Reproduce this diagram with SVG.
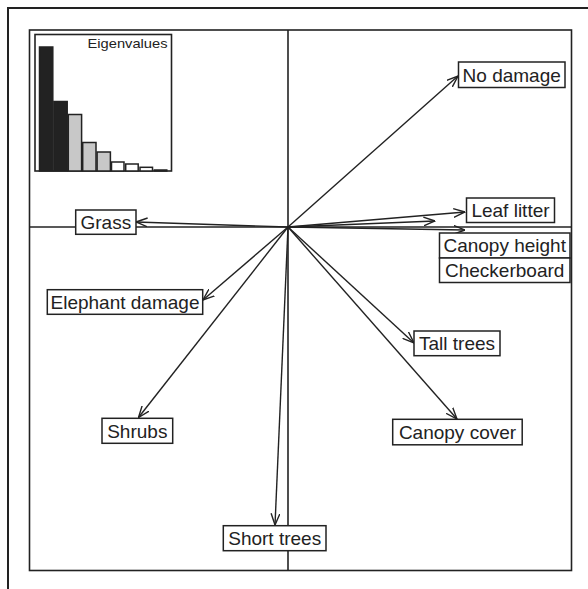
<svg xmlns="http://www.w3.org/2000/svg" width="588" height="589" viewBox="0 0 588 589">
<style>
.frame{fill:none;stroke:#222;stroke-width:1.6}
.axis{stroke:#222;stroke-width:1.6}
.arr{stroke:#222;stroke-width:1.4;fill:none;marker-end:url(#ah)}
.box{fill:#fff;stroke:#222;stroke-width:1.5}
.lbl{font-family:"Liberation Sans",Arial,sans-serif;font-size:19px;fill:#222;text-anchor:middle}
.bar{stroke:#222;stroke-width:1.5}
</style>
<defs>
<marker id="ah" markerUnits="userSpaceOnUse" viewBox="0 0 12 10" refX="11.5" refY="5" markerWidth="12" markerHeight="10" orient="auto">
<path d="M0,0.6 L11.5,5 L0,9.4" fill="none" stroke="#222" stroke-width="1.4"/>
</marker>
</defs>
<rect width="588" height="589" fill="#fff"/>
<path d="M8,589 L8,8 L588,8" fill="none" stroke="#222" stroke-width="2"/>
<rect class="frame" x="29.5" y="30" width="542" height="540.5"/>
<g id="axes">
<line class="axis" x1="288" y1="30" x2="288" y2="570.5"/>
<line class="axis" x1="29.5" y1="227" x2="571.5" y2="227"/>
</g>
<g id="inset">
<rect class="frame" x="35" y="34.5" width="136.5" height="136.5"/>
<rect class="bar" x="39.5" y="47" width="13.3" height="124" fill="#222"/>
<rect class="bar" x="53.9" y="101.5" width="13.3" height="69.5" fill="#222"/>
<rect class="bar" x="68.3" y="114.5" width="13.3" height="56.5" fill="#c8c8c8"/>
<rect class="bar" x="82.7" y="142.5" width="13.3" height="28.5" fill="#c8c8c8"/>
<rect class="bar" x="97.1" y="152" width="13.3" height="19" fill="#c8c8c8"/>
<rect class="bar" x="111.5" y="162" width="12.5" height="9" fill="#fff"/>
<rect class="bar" x="125.7" y="164" width="12.5" height="7" fill="#fff"/>
<rect class="bar" x="140" y="167.3" width="12.5" height="3.7" fill="#fff"/>
<rect class="bar" x="154.3" y="170" width="12.5" height="1" fill="#fff"/>
<text x="167.5" y="48" font-family="Liberation Sans,Arial,sans-serif" font-size="13.5" fill="#222" text-anchor="end" textLength="80" lengthAdjust="spacingAndGlyphs">Eigenvalues</text>
</g>
<g id="connectors">
<line class="arr" x1="288" y1="227" x2="458" y2="76"/>
<line class="arr" x1="288" y1="227" x2="465" y2="212"/>
<line class="arr" x1="288" y1="227" x2="435" y2="221"/>
<line class="arr" x1="288" y1="227" x2="465" y2="230"/>
<line class="arr" x1="288" y1="227" x2="136" y2="222"/>
<line class="arr" x1="288" y1="227" x2="203" y2="300"/>
<line class="arr" x1="288" y1="227" x2="414" y2="343"/>
<line class="arr" x1="288" y1="227" x2="138.5" y2="417.5"/>
<line class="arr" x1="288" y1="227" x2="457" y2="419"/>
<line class="arr" x1="288" y1="227" x2="275" y2="525"/>
</g>
<g id="no-damage"><rect class="box" x="458.5" y="62" width="106.5" height="25.5"/><text class="lbl" x="511.7" y="81.5">No damage</text></g>
<g id="leaf-litter"><rect class="box" x="466.5" y="198" width="88" height="24.5"/><text class="lbl" x="510.5" y="217">Leaf litter</text></g>
<g id="canopy-height"><rect class="box" x="439.5" y="233" width="130.5" height="25"/><text class="lbl" x="504.7" y="252.2">Canopy height</text></g>
<g id="checkerboard"><rect class="box" x="439.5" y="258" width="130.5" height="24.5"/><text class="lbl" x="504.7" y="277">Checkerboard</text></g>
<g id="grass"><rect class="box" x="75.7" y="210" width="60.3" height="24.3"/><text class="lbl" x="105.8" y="228.9">Grass</text></g>
<g id="elephant-damage"><rect class="box" x="47.3" y="289.7" width="155.4" height="24.6"/><text class="lbl" x="125" y="308.7">Elephant damage</text></g>
<g id="tall-trees"><rect class="box" x="414" y="331" width="86" height="24.7"/><text class="lbl" x="457" y="350">Tall trees</text></g>
<g id="shrubs"><rect class="box" x="102" y="418.3" width="70.7" height="25"/><text class="lbl" x="137.3" y="437.5">Shrubs</text></g>
<g id="canopy-cover"><rect class="box" x="392.7" y="419.3" width="129.5" height="25.5"/><text class="lbl" x="457.5" y="438.7">Canopy cover</text></g>
<g id="short-trees"><rect class="box" x="223.3" y="525.7" width="102.7" height="25"/><text class="lbl" x="274.7" y="544.9">Short trees</text></g>
</svg>
